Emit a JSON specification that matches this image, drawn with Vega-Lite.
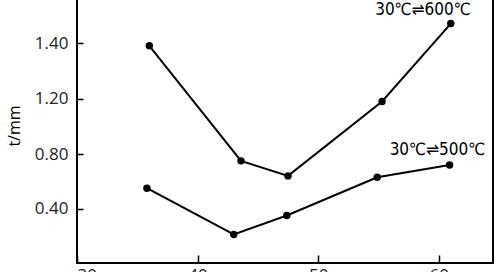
{
  "$schema": "https://vega.github.io/schema/vega-lite/v6.json",
  "width": 416,
  "height": 275,
  "autosize": {"type": "none"},
  "padding": {"left": 77, "top": -12, "right": 6, "bottom": 9},
  "background": "white",
  "config": {"view": {"stroke": "black", "strokeWidth": 2}},
  "datasets": {
    "series": [
      {"temp": 36.0, "t": 1.39, "cycle": "600"},
      {"temp": 43.6, "t": 0.75, "cycle": "600"},
      {"temp": 47.5, "t": 0.64, "cycle": "600"},
      {"temp": 55.3, "t": 1.18, "cycle": "600"},
      {"temp": 61.0, "t": 1.47, "cycle": "600"},
      {"temp": 35.8, "t": 0.55, "cycle": "500"},
      {"temp": 43.0, "t": 0.21, "cycle": "500"},
      {"temp": 47.4, "t": 0.35, "cycle": "500"},
      {"temp": 54.9, "t": 0.63, "cycle": "500"},
      {"temp": 60.9, "t": 0.72, "cycle": "500"}
    ],
    "labels": [
      {"temp": 58.7, "t": 1.52, "label": "30℃⇌600℃"},
      {"temp": 59.9, "t": 0.83, "label": "30℃⇌500℃"}
    ]
  },
  "layer": [
    {
      "data": {"name": "series"},
      "mark": {"type": "line", "color": "black", "strokeWidth": 2, "point": {"filled": true, "color": "black", "size": 55}},
      "encoding": {
        "x": {
          "field": "temp", "type": "quantitative",
          "scale": {"domain": [30, 64.5], "nice": false, "zero": false},
          "axis": {
            "title": null, "values": [30, 40, 50, 60], "format": "d",
            "grid": false, "domain": false, "offset": -8,
            "tickColor": "black", "tickWidth": 1.5, "tickSize": 8,
            "labelFont": "Open Sans", "labelFontSize": 17, "labelColor": "#222",
            "labelPadding": 4
          }
        },
        "y": {
          "field": "t", "type": "quantitative",
          "scale": {"domain": [0, 0.4, 0.8, 1.2, 1.4, 1.598], "range": [275, 220.7, 166, 110.7, 55, 0], "nice": false, "zero": false},
          "axis": {
            "title": "t/mm", "values": [0.4, 0.8, 1.2, 1.4], "format": ".2f",
            "grid": false, "domain": false, "offset": -6,
            "tickColor": "black", "tickWidth": 1.5, "tickSize": 6,
            "labelFont": "Open Sans", "labelFontSize": 17, "labelColor": "#222",
            "labelPadding": 9,
            "titleFont": "Open Sans", "titleFontSize": 16, "titleFontWeight": "normal", "titleColor": "black",
            "titlePadding": 12
          }
        },
        "detail": {"field": "cycle"}
      }
    },
    {
      "data": {"name": "labels"},
      "mark": {"type": "text", "font": "DejaVu Sans Condensed, DejaVu Sans", "fontSize": 17, "color": "black", "align": "center", "baseline": "middle"},
      "encoding": {
        "x": {"field": "temp", "type": "quantitative"},
        "y": {"field": "t", "type": "quantitative"},
        "text": {"field": "label"}
      }
    }
  ]
}
